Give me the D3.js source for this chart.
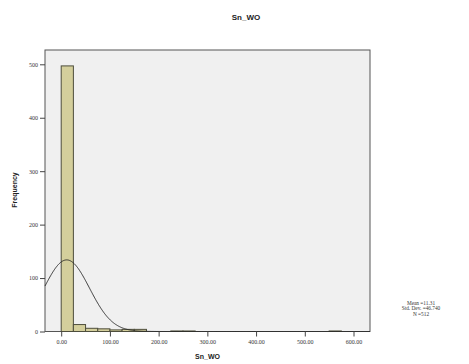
<!DOCTYPE html>
<html><head><meta charset="utf-8">
<script src="https://cdn.jsdelivr.net/npm/d3@7"></script>
<style>body{margin:0;background:#fff}svg{display:block}text{font-family:"Liberation Sans",Arial,sans-serif}</style>
</head><body><svg id="c" width="469" height="364"></svg>
<script>
const title = "Sn_WO";
const xTitle = "Sn_WO";
const yTitle = "Frequency";
const binStarts = [0,25,50,75,100,125,150,225,250,550];
const binCounts = [497,13,6,5,3,4,4,1,1,1];
const binWidth = 25;
const xTicks = [0,100,200,300,400,500,600];
const yTicks = [0,100,200,300,400,500];
const statLines = ["Mean =11.31","Std. Dev. =46.740","N =512"];
const curveMean = 11.31, curveSd = 46.74, curvePeak = 134;

const svg = d3.select("#c");
const L=45,R=370,T=50,B=331.5;
const x = d3.scaleLinear().domain([0,600]).range([61.2,353.5]);
const y = d3.scaleLinear().domain([0,500]).range([B,64.3]);

svg.append("rect").attr("x",L).attr("y",T).attr("width",R-L).attr("height",B-T)
  .attr("fill","#f0f0f0").attr("stroke","#555").attr("stroke-width",1);

const g = svg.append("g");
g.selectAll("rect.bar").data(binStarts).join("rect").attr("class","bar")
  .attr("x",(d)=>x(d)).attr("width",x(binWidth)-x(0))
  .attr("y",(d,i)=>y(binCounts[i])).attr("height",(d,i)=>B-y(binCounts[i]))
  .attr("fill","#d4cf9c").attr("stroke","#4e4e3c").attr("stroke-width",1);

// normal curve
const xs = d3.range(x.invert(L), x.invert(R)+0.1, 1);
const line = d3.line().x(d=>x(d)).y(d=>y(curvePeak*Math.exp(-0.5*Math.pow((d-curveMean)/curveSd,2)))).curve(d3.curveBasis);
svg.append("path").datum(xs).attr("d",line).attr("fill","none").attr("stroke","#222").attr("stroke-width",0.9);

// axes
const xa = svg.append("g").attr("transform",`translate(0,${B})`)
  .call(d3.axisBottom(x).tickValues(xTicks).tickSize(5).tickPadding(3).tickFormat(d3.format(".2f")));
xa.select(".domain").remove();
const ya = svg.append("g").attr("transform",`translate(${L},0)`)
  .call(d3.axisLeft(y).tickValues(yTicks).tickSize(5).tickPadding(2));
ya.select(".domain").remove();
svg.selectAll(".tick line").attr("stroke","#444");
svg.selectAll(".tick text").attr("font-size",6).attr("fill","#333").style("font-family","Liberation Serif, serif");

svg.append("text").attr("x",246).attr("y",20).attr("text-anchor","middle").attr("font-size",8).attr("font-weight","bold").attr("fill","#222").text(title);
svg.append("text").attr("x",207.5).attr("y",359).attr("text-anchor","middle").attr("font-size",7).attr("font-weight","bold").attr("fill","#222").text(xTitle);
svg.append("text").attr("transform","translate(17,190) rotate(-90)").attr("text-anchor","middle").attr("font-size",7).attr("font-weight","bold").attr("fill","#222").text(yTitle);

svg.append("g").selectAll("text").data(statLines).join("text")
  .attr("x",421).attr("y",(d,i)=>305+i*5.3).attr("text-anchor","middle").attr("font-size",5.3).attr("fill","#333")
  .style("font-family","Liberation Serif, serif").text(d=>d);
</script></body></html>
